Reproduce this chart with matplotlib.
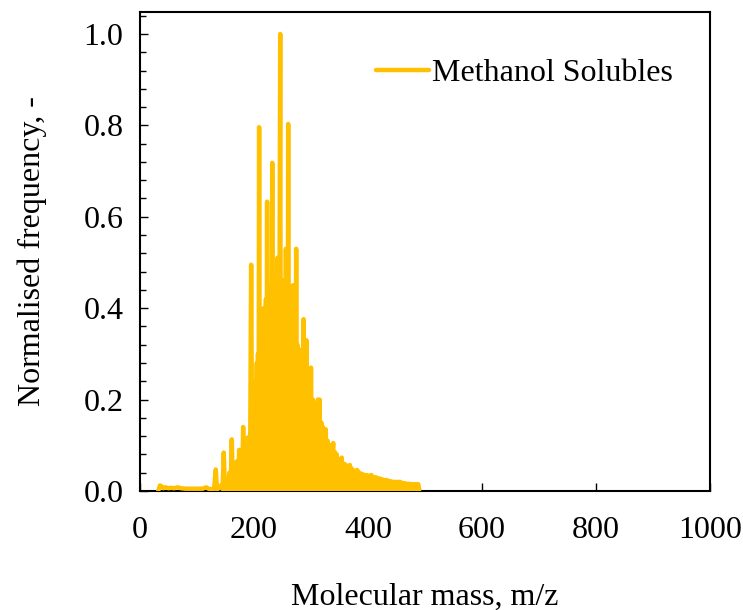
"""
Mass spectrum of the methanol solubles, normalised to the base peak.
"""

import matplotlib.pyplot as plt
from matplotlib.ticker import MultipleLocator

plt.rcParams['font.family'] = ['Liberation Serif', 'DejaVu Serif']

# m/z values and normalised intensities (peak, valley, peak, ...)
mz = [
    32, 35, 38, 41, 45, 50, 55, 60, 66, 72, 80, 90, 100, 110, 116, 120, 126, 130,
    133, 135, 139, 142, 145, 147, 149, 152, 154, 157, 159, 161, 163, 166, 168, 170,
    172, 174, 176, 178, 179, 181, 183, 185, 186, 188, 190, 192, 193, 195, 197, 199,
    200, 202, 203, 205, 206, 207, 208, 209, 210, 212, 213, 215, 216, 217, 218, 219,
    220, 221, 222, 223, 224, 226, 227, 228, 229, 230, 231, 232, 233, 234, 235, 236,
    237, 238, 239, 241, 242, 243, 244, 246, 247, 248, 249, 251, 252, 254, 255, 256,
    257, 258, 259, 260, 261, 262, 263, 264, 265, 266, 267, 268, 269, 270, 271, 272,
    273, 274, 275, 276, 277, 279, 280, 282, 283, 285, 286, 287, 288, 290, 291, 292,
    293, 295, 296, 298, 299, 300, 301, 303, 304, 306, 307, 309, 310, 312, 313, 315,
    316, 318, 319, 321, 322, 324, 325, 326, 327, 329, 330, 332, 333, 335, 336, 338,
    339, 340, 342, 343, 345, 346, 348, 349, 351, 352, 354, 355, 357, 358, 360, 361,
    363, 364, 366, 367, 368, 369, 371, 372, 374, 375, 377, 378, 381, 382, 384, 385,
    388, 389, 392, 393, 396, 397, 400, 401, 404, 405, 406, 407, 410, 411, 414, 415,
    418, 419, 422, 423, 426, 427, 430, 431, 433, 434, 437, 438, 441, 442, 445, 446,
    449, 450, 453, 454, 456, 457, 460, 461, 464, 465, 468, 469, 472, 473, 476, 477,
    480, 481, 484, 485, 488, 490,
]
freq = [
    0.0, 0.012, 0.01, 0.006, 0.008, 0.006, 0.007, 0.006, 0.008, 0.006, 0.005, 0.005,
    0.005, 0.005, 0.008, 0.005, 0.004, 0.005,
    0.047, 0.004, 0.006, 0.012, 0.004, 0.084, 0.004, 0.02, 0.004, 0.04, 0.004, 0.113,
    0.004, 0.05, 0.004, 0.065,
    0.004, 0.09, 0.004, 0.07, 0.004, 0.14, 0.004, 0.09, 0.004, 0.116, 0.004, 0.12, 0.004,
    0.495, 0.004, 0.24,
    0.004, 0.24, 0.004, 0.28, 0.004, 0.3, 0.004, 0.796, 0.004, 0.36, 0.004, 0.38, 0.004,
    0.4, 0.004, 0.39,
    0.004, 0.42, 0.004, 0.633, 0.004, 0.43, 0.004, 0.45, 0.004, 0.44, 0.004, 0.718,
    0.004, 0.46, 0.004, 0.47,
    0.004, 0.46, 0.004, 0.51, 0.004, 0.51, 0.004, 1.0, 0.004, 0.44, 0.004, 0.46, 0.004,
    0.42, 0.004, 0.53,
    0.004, 0.41, 0.004, 0.803, 0.004, 0.38, 0.004, 0.414, 0.004, 0.37, 0.004, 0.45,
    0.004, 0.34, 0.004, 0.45,
    0.004, 0.53, 0.004, 0.32, 0.004, 0.31, 0.004, 0.3, 0.004, 0.31, 0.004, 0.376, 0.004,
    0.28, 0.004, 0.33,
    0.004, 0.24, 0.004, 0.267, 0.004, 0.27, 0.004, 0.2, 0.004, 0.19, 0.004, 0.17, 0.004,
    0.2, 0.004, 0.2,
    0.004, 0.15, 0.004, 0.14, 0.004, 0.12, 0.004, 0.135, 0.004, 0.11, 0.004, 0.1, 0.004,
    0.1, 0.004, 0.09,
    0.105, 0.004, 0.085, 0.004, 0.08, 0.004, 0.07, 0.004, 0.07, 0.004, 0.073, 0.004,
    0.06, 0.004, 0.058, 0.004,
    0.055, 0.004, 0.05, 0.004, 0.057, 0.004, 0.05, 0.004, 0.045, 0.004, 0.044, 0.004,
    0.046, 0.004, 0.04, 0.004,
    0.038, 0.004, 0.036, 0.004, 0.035, 0.004, 0.034, 0.004, 0.033, 0.004, 0.035, 0.004,
    0.03, 0.004, 0.03, 0.004,
    0.028, 0.004, 0.027, 0.004, 0.025, 0.004, 0.024, 0.004, 0.024, 0.004, 0.022,
    0.004, 0.021, 0.004, 0.02, 0.004,
    0.02, 0.004, 0.02, 0.004, 0.02, 0.004, 0.018, 0.004, 0.017, 0.004, 0.016, 0.004,
    0.016, 0.004, 0.015, 0.004,
    0.015, 0.004, 0.015, 0.004, 0.015, 0.003,
]

fig = plt.figure(figsize=(7.43, 6.10), dpi=100)
ax = fig.add_axes([0.1884, 0.1951, 0.7672, 0.7852])

ax.plot(mz, freq, color='#FFC000', lw=3.2, solid_joinstyle='round',
        solid_capstyle='round', zorder=3, label='Methanol Solubles')

ax.set_xlim(0, 1000)
ax.set_ylim(0, 1.048)
ax.xaxis.set_major_locator(MultipleLocator(200))
ax.yaxis.set_major_locator(MultipleLocator(0.2))
ax.yaxis.set_minor_locator(MultipleLocator(0.04))
ax.yaxis.set_major_formatter(plt.FormatStrFormatter('%.1f'))

ax.tick_params(which='both', direction='in', labelsize=23, width=1.0)
ax.tick_params(which='major', length=6)
ax.tick_params(which='minor', length=4.5)
ax.tick_params(axis='y', pad=12)
ax.tick_params(axis='x', pad=18)
for s in ax.spines.values():
    s.set_linewidth(1.5)

ax.set_xlabel('Molecular mass, m/z', fontsize=23, labelpad=27)
ax.set_ylabel('Normalised frequency, -', fontsize=23, labelpad=26)

ax.legend(loc='upper right', bbox_to_anchor=(0.986, 0.962), frameon=False,
          fontsize=23, handlelength=1.66, handletextpad=0.12)

fig.savefig('out.png', dpi=100)
